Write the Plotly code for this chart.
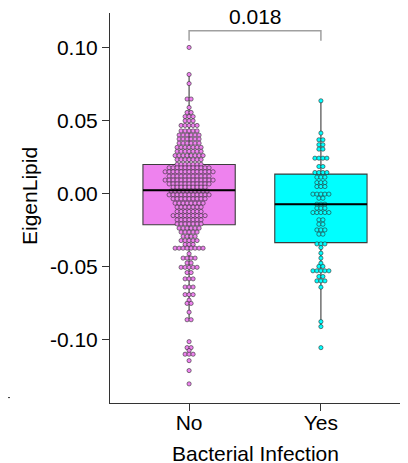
import plotly.graph_objects as go

# ---------------- data ----------------
categories = ["No", "Yes"]
fill_colors = ["#EE82EE", "#00FFFF"]

q1 = [-0.0214, -0.0336]
median = [0.0023, -0.0073]
q3 = [0.0199, 0.0133]
lower_whisker = [-0.0864, -0.0911]
upper_whisker = [0.0815, 0.0635]

# dot-plot rows: bin value and number of stacked dots in that bin
no_values = [0.1000, 0.0815, 0.0753, 0.0647, 0.0589, 0.0555, 0.0527, 0.0498, 0.0466,
             0.0429, 0.0400, 0.0373, 0.0345, 0.0316, 0.0289, 0.0260, 0.0232, 0.0200,
             0.0176, 0.0149, 0.0119, 0.0092, 0.0066, 0.0044, 0.0018, -0.0009, -0.0036,
             -0.0066, -0.0093, -0.0123, -0.0151, -0.0180, -0.0208, -0.0237, -0.0264,
             -0.0293, -0.0322, -0.0348, -0.0374, -0.0412, -0.0442, -0.0475, -0.0505,
             -0.0541, -0.0584, -0.0640, -0.0692, -0.0730, -0.0752, -0.0812, -0.0864,
             -0.1014, -0.1055, -0.1075, -0.1100, -0.1144, -0.1212, -0.1303]
no_counts = [1, 1, 1, 2, 1, 2, 3, 3, 5,
             5, 6, 6, 6, 7, 7, 8, 7, 7,
             11, 13, 11, 13, 11, 9, 10, 11, 9,
             8, 7, 7, 9, 7, 7, 6, 5,
             4, 5, 3, 8, 1, 4, 2, 5,
             2, 3, 3, 3, 1, 2, 1, 2,
             1, 2, 1, 3, 1, 1, 1]

yes_values = [0.0635, 0.0414, 0.0368, 0.0334, 0.0304, 0.0242, 0.0185, 0.0144, 0.0112,
              0.0075, 0.0048, -0.0004, -0.0032, -0.0073, -0.0100, -0.0130, -0.0180,
              -0.0210, -0.0249, -0.0278, -0.0345, -0.0370, -0.0408, -0.0442, -0.0477,
              -0.0499, -0.0529, -0.0568, -0.0598, -0.0641, -0.0877, -0.0911, -0.1055]
yes_counts = [1, 1, 2, 2, 2, 4, 2, 4, 3,
              3, 3, 5, 2, 3, 3, 5, 2,
              2, 3, 2, 3, 1, 1, 1, 1,
              2, 5, 2, 3, 1, 1, 1, 1]

y_tick_values = [0.10, 0.05, 0.00, -0.05, -0.10]
y_tick_labels = ["0.10", "0.05", "0.00", "-0.05", "-0.10"]
p_value_label = "0.018"
x_title = "Bacterial Infection"
y_title = "EigenLipid"

# ---------------- styling ----------------
FONT = "Liberation Sans, Arial, sans-serif"
AXIS_COLOR = "#333333"
BOX_WIDTH = 0.7
DOT_PITCH = 0.0303  # horizontal spacing of stacked dots (category units)

fig = go.Figure()

# boxes
for i, cat in enumerate(categories):
    fig.add_trace(go.Box(
        x=[i], q1=[q1[i]], median=[median[i]], q3=[q3[i]],
        lowerfence=[lower_whisker[i]], upperfence=[upper_whisker[i]],
        width=BOX_WIDTH, whiskerwidth=0, boxpoints=False,
        fillcolor=fill_colors[i], line=dict(color="#3c3c3c", width=1.1),
        showlegend=False, hoverinfo="skip",
    ))

# dots (centre-stacked dot plot)
def stack(center, values, counts):
    xs, ys = [], []
    for v, n in zip(values, counts):
        for k in range(n):
            xs.append(center + (k - (n - 1) / 2) * DOT_PITCH)
            ys.append(v)
    return xs, ys

for i, (vals, cnts) in enumerate([(no_values, no_counts), (yes_values, yes_counts)]):
    xs, ys = stack(i, vals, cnts)
    fig.add_trace(go.Scatter(
        x=xs, y=ys, mode="markers",
        marker=dict(size=4.2, color=fill_colors[i], line=dict(color="#2b2b2b", width=0.6)),
        showlegend=False, hoverinfo="skip",
    ))

# median lines on top
for i in range(len(categories)):
    fig.add_trace(go.Scatter(
        x=[i - BOX_WIDTH / 2, i + BOX_WIDTH / 2], y=[median[i], median[i]],
        mode="lines", line=dict(color="black", width=2),
        showlegend=False, hoverinfo="skip",
    ))

# significance bracket
br_top, br_bot = 0.1115, 0.1046
fig.add_shape(type="path",
              path=f"M 0 {br_bot} L 0 {br_top} L 1 {br_top} L 1 {br_bot}",
              xref="x", yref="y", line=dict(color="#a0a0a0", width=1.5))
fig.add_annotation(x=0.5, y=br_top, xref="x", yref="y", text=p_value_label,
                   showarrow=False, yanchor="bottom", yshift=1,
                   font=dict(family=FONT, size=21, color="black"))

# stray mark at the lower-left edge (page is offset by the 8px body margin)
fig.add_shape(type="line", xref="paper", yref="y", x0=-0.3517, x1=-0.3448,
              y0=-0.1397, y1=-0.1397, line=dict(color=AXIS_COLOR, width=1))

# axis titles
fig.add_annotation(x=0.5, y=0, xref="paper", yref="paper", text=x_title,
                   showarrow=False, yanchor="middle", yshift=-50,
                   font=dict(family=FONT, size=21, color="black"))
fig.add_annotation(x=0, y=0.5, xref="paper", yref="paper", text=y_title,
                   showarrow=False, textangle=-90, xanchor="center", yanchor="middle",
                   xshift=-81, yshift=12,
                   font=dict(family=FONT, size=21, color="black"))

# the page adds an 8px body margin on the left and top, so the figure is
# 8px smaller and its left/top margins 8px smaller than the target layout
fig.update_layout(
    width=400, height=455,
    margin=dict(l=102, r=8, t=5, b=60),
    paper_bgcolor="white", plot_bgcolor="white",
    font=dict(family=FONT, size=21, color="black"),
    xaxis=dict(range=[-0.6, 1.6], tickmode="array", tickvals=[0, 1], ticktext=categories,
               showline=True, linecolor=AXIS_COLOR, linewidth=1, ticks="outside",
               ticklen=7, tickcolor=AXIS_COLOR, tickwidth=1, showgrid=False,
               zeroline=False, tickfont=dict(size=21, color="black"),
               ticklabelstandoff=-6),
    yaxis=dict(range=[-0.1434, 0.1236], tickmode="array", tickvals=y_tick_values,
               ticktext=y_tick_labels, showline=True, linecolor=AXIS_COLOR, linewidth=1,
               ticks="outside", ticklen=7, tickcolor=AXIS_COLOR, tickwidth=1,
               showgrid=False, zeroline=False, tickfont=dict(size=21, color="black")),
)

fig.write_html("out.html")
